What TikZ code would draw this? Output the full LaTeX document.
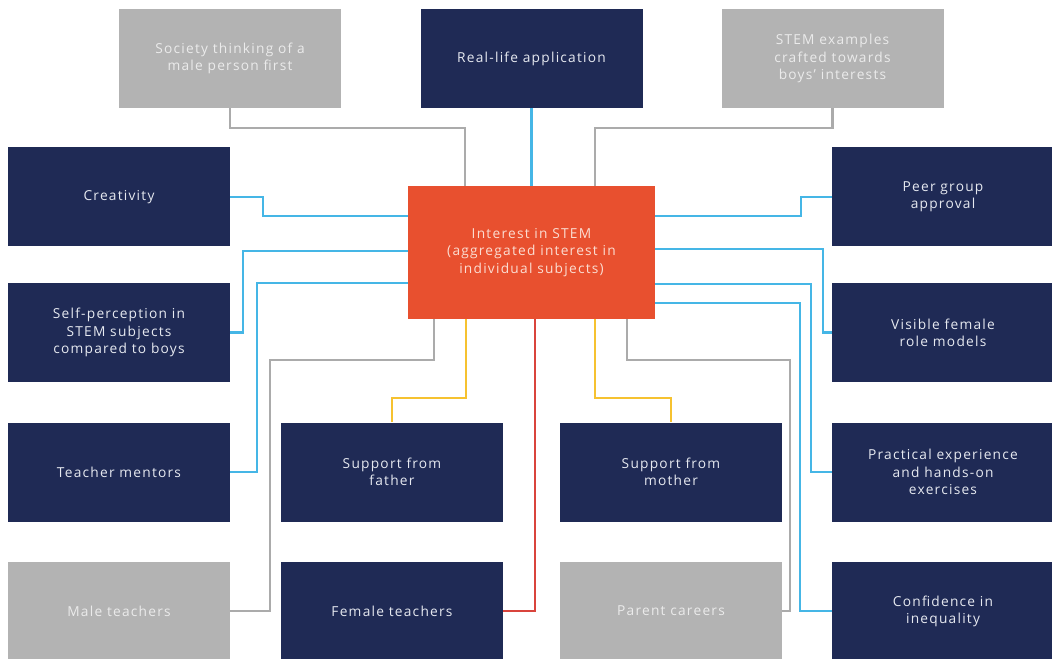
\documentclass[tikz,border=0pt]{standalone}
\usepackage{fontspec}
\setmainfont{Open Sans}[LetterSpace=9]
\usetikzlibrary{calc}
\definecolor{navy}{HTML}{1F2A55}
\definecolor{boxgray}{HTML}{B3B3B3}
\definecolor{orangec}{HTML}{E8502F}
\definecolor{lblue}{HTML}{45B6E6}
\definecolor{lgray}{HTML}{ABABAB}
\definecolor{lyellow}{HTML}{F6C230}
\definecolor{lred}{HTML}{D9443C}
\definecolor{navytext}{HTML}{E6E9F0}
\definecolor{graytext}{HTML}{EBEBEB}
\definecolor{orangetext}{HTML}{FBDDD2}
\begin{document}
\begin{tikzpicture}[x=0.75pt,y=-0.75pt,
  box/.style={minimum width=166.5pt,minimum height=74.25pt,inner sep=0pt,align=center,
    font=\fontsize{10.3pt}{12.9pt}\selectfont},
  navybox/.style={box,fill=navy,text=navytext},
  graybox/.style={box,fill=boxgray,text=graytext},
  mainbox/.style={box,fill=orangec,text=orangetext,minimum width=185.25pt,minimum height=99.75pt},
  conn/.style={line width=1.7pt},
  bl/.style={conn,draw=lblue},
  gl/.style={conn,draw=lgray},
  yl/.style={conn,draw=lyellow},
  rl/.style={conn,draw=lred}]
\useasboundingbox (0,0) rectangle (1052,659);
\fill[white] (0,0) rectangle (1052,659);
\clip (0,0) rectangle (1052,659);
% nodes
\node[graybox] (society) at (230,58.5) {Society thinking of a\\male person first};
\node[navybox] (real) at (531.5,58.5) {Real-life application};
\node[graybox] (stemex) at (832.5,58.5) {STEM examples\\crafted towards\\boys' interests};
\node[navybox] (creat) at (119,197) {Creativity};
\node[mainbox] (center) at (531.5,252.5) {Interest in STEM\\(aggregated interest in\\individual subjects)};
\node[navybox] (peer) at (943,197) {Peer group\\approval};
\node[navybox] (self) at (119,332.5) {Self-perception in\\STEM subjects\\compared to boys};
\node[navybox] (visible) at (943,332.5) {Visible female\\role models};
\node[navybox] (mentors) at (119,472) {Teacher mentors};
\node[navybox] (father) at (392,472) {Support from\\father};
\node[navybox] (mother) at (671,472) {Support from\\mother};
\node[navybox] (practical) at (943,472) {Practical experience\\and hands-on\\exercises};
\node[graybox] (male) at (119,611) {Male teachers};
\node[navybox] (female) at (392,611) {Female teachers};
\node[graybox] (parent) at (671,611) {Parent careers};
\node[navybox] (confid) at (943,611) {Confidence in\\inequality};
% connectors: top
\draw[gl] (society.south) -- ++(0,20) -| ($(center.north west)+(57,0)$);
\draw[bl] (real.south) -- (center.north);
\draw[gl] (stemex.south) -- ++(0,20) -| ($(center.north west)+(187,0)$);
% left
\draw[bl] (creat.east) -- ++(33,0) |- ($(center.north west)+(0,30)$);
\draw[bl] (self.east) -- ++(13,0) |- ($(center.north west)+(0,65)$);
\draw[bl] (mentors.east) -- ++(27,0) |- ($(center.north west)+(0,97)$);
% right
\draw[bl] (peer.west) -- ++(-31,0) |- ($(center.north east)+(0,30)$);
\draw[bl] (visible.west) -- ++(-9,0) |- ($(center.north east)+(0,63)$);
\draw[bl] (practical.west) -- ++(-21,0) |- ($(center.north east)+(0,98)$);
\draw[bl] (confid.west) -- ++(-32,0) |- ($(center.north east)+(0,117)$);
% bottom
\draw[gl] (male.east) -- ++(40,0) |- ($(center.south west)+(26,41)$) -- ($(center.south west)+(26,0)$);
\draw[yl] (father.north) -- ++(0,-24) -| ($(center.south west)+(58,0)$);
\draw[rl] (female.east) -| ($(center.south west)+(127,0)$);
\draw[yl] (mother.north) -- ++(0,-24) -| ($(center.south west)+(187,0)$);
\draw[gl] (parent.east) -- ++(8,0) |- ($(center.south west)+(219,41)$) -- ($(center.south west)+(219,0)$);
\end{tikzpicture}
\end{document}
